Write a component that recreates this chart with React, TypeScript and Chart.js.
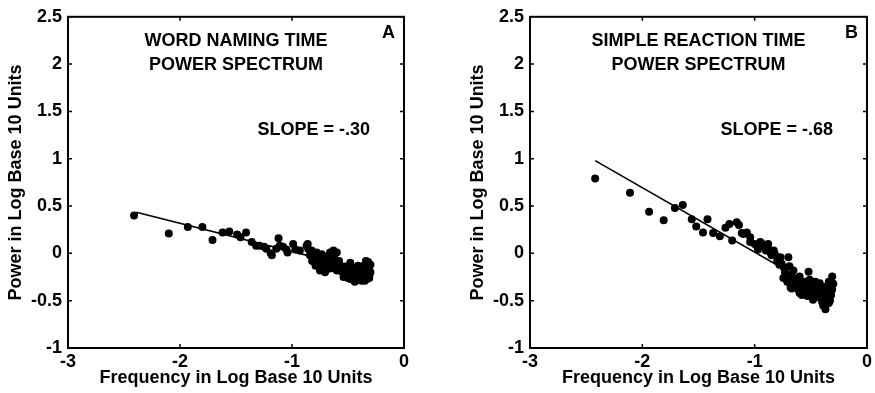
import React, { useEffect, useRef } from "react";
import { Chart, registerables } from "chart.js";

Chart.register(...registerables);

// ---- axis / tick definitions ----
const xTickValues = [-3, -2, -1, 0];
const yTickValues = [-1, -0.5, 0, 0.5, 1, 1.5, 2, 2.5];
const xAxisTitle = "Frequency in Log Base 10 Units";
const yAxisTitle = "Power in Log Base 10 Units";

// ---- Panel A: word naming time ----
const wordFreq = [
  -2.41, -2.1, -1.93, -1.8, -1.71, -1.62, -1.56, -1.49, -1.46, -1.41, -1.36, -1.32, -1.29, -1.25,
  -1.23, -1.19, -1.18, -1.14, -1.12, -1.11, -1.08, -1.05, -1.04, -0.99, -0.97, -0.93, -0.87, -0.86,
  -0.855, -0.825, -0.81, -0.8, -0.78, -0.78, -0.76, -0.75, -0.735, -0.73, -0.72, -0.705, -0.69,
  -0.68, -0.66, -0.66, -0.645, -0.63, -0.63, -0.62, -0.6, -0.6, -0.57, -0.54, -0.51, -0.48, -0.48,
  -0.47, -0.45, -0.44, -0.42, -0.41, -0.4, -0.39, -0.38, -0.37, -0.36, -0.36, -0.35, -0.34, -0.34,
  -0.33, -0.33, -0.32, -0.32, -0.31, -0.3,
  -0.84, -0.82, -0.79, -0.77, -0.74, -0.71, -0.7, -0.67, -0.65, -0.61, -0.58, -0.56, -0.53, -0.52,
  -0.5, -0.46, -0.43, -0.42, -0.4, -0.38, -0.37, -0.35, -0.34, -0.33, -0.31, -0.31, -0.3, -0.32,
  -0.36, -0.39,
];
const wordPower = [
  0.4, 0.21, 0.28, 0.28, 0.14, 0.22, 0.23, 0.2, 0.17, 0.22, 0.12, 0.08, 0.08, 0.07,
  0.05, 0.0, -0.02, 0.05, 0.16, 0.08, 0.07, 0.04, 0.01, 0.1, 0.04, 0.03, 0.08, 0.1,
  0.045, 0.03, -0.04, -0.06, -0.1, 0.01, -0.02, -0.18, -0.01, -0.14, -0.11, -0.2, -0.08,
  -0.03, 0.01, -0.16, -0.1, -0.15, 0.03, -0.06, 0.01, -0.18, -0.13, -0.25, -0.16, -0.1, -0.27,
  -0.2, -0.15, -0.3, -0.23, -0.13, -0.26, -0.18, -0.29, -0.22, -0.2, -0.13, -0.25, -0.08, -0.18,
  -0.27, -0.11, -0.16, -0.21, -0.23, -0.12,
  -0.02, -0.08, -0.13, -0.06, -0.09, -0.04, -0.15, -0.11, -0.06, -0.12, -0.08, -0.19, -0.14, -0.22,
  -0.26, -0.24, -0.19, -0.28, -0.15, -0.24, -0.17, -0.29, -0.22, -0.14, -0.18, -0.26, -0.2, -0.09,
  -0.27, -0.21,
];
const wordFitFreq = [-2.39, -0.3];
const wordFitPower = [0.435, -0.19];

// ---- Panel B: simple reaction time ----
const srtFreq = [
  -2.42, -2.11, -1.94, -1.81, -1.71, -1.64, -1.56, -1.52, -1.46, -1.42, -1.37, -1.31, -1.26,
  -1.225, -1.2, -1.16, -1.14, -1.115, -1.1, -1.07, -1.04, -1.04, -0.98, -0.95, -0.95, -0.91,
  -0.88, -0.88, -0.86, -0.83, -0.83, -0.82, -0.79, -0.77, -0.76, -0.745, -0.73, -0.7, -0.69,
  -0.68, -0.67, -0.67, -0.655, -0.64, -0.62, -0.61, -0.6, -0.58, -0.57, -0.55, -0.54, -0.52,
  -0.51, -0.5, -0.49, -0.48, -0.46, -0.45, -0.44, -0.43, -0.42, -0.4, -0.39, -0.37, -0.36,
  -0.35, -0.34, -0.33, -0.33, -0.32, -0.31,
  -1.0, -0.97, -0.93, -0.9, -0.85, -0.8, -0.78, -0.74, -0.72, -0.71, -0.66, -0.63, -0.6, -0.59,
  -0.56, -0.53, -0.52, -0.5, -0.47, -0.46, -0.44, -0.42, -0.41, -0.38, -0.37, -0.36, -0.35, -0.34,
  -0.32, -0.31, -0.3, -0.33, -0.39,
];
const srtPower = [
  0.79, 0.64, 0.44, 0.35, 0.48, 0.51, 0.36, 0.285, 0.22, 0.36, 0.215, 0.18, 0.27,
  0.31, 0.135, 0.33, 0.3, 0.215, 0.205, 0.22, 0.17, 0.12, 0.08, 0.12, 0.08, 0.065,
  0.1, 0.05, 0.01, 0.03, 0.01, -0.01, -0.055, -0.04, -0.11, -0.26, -0.2, -0.04, -0.135,
  -0.36, -0.245, -0.37, -0.18, -0.3, -0.32, -0.385, -0.245, -0.44, -0.33, -0.3, -0.4, -0.195,
  -0.28, -0.42, -0.35, -0.49, -0.44, -0.33, -0.46, -0.385, -0.315, -0.51, -0.47, -0.59, -0.43,
  -0.385, -0.525, -0.455, -0.35, -0.4, -0.245,
  0.1, 0.04, 0.1, 0.03, -0.02, -0.08, -0.12, -0.15, -0.23, -0.3, -0.28, -0.35, -0.42, -0.29,
  -0.37, -0.45, -0.33, -0.3, -0.38, -0.3, -0.4, -0.45, -0.36, -0.42, -0.5, -0.35, -0.46, -0.3,
  -0.44, -0.38, -0.32, -0.5, -0.55,
];
const srtFitFreq = [-2.42, -0.32];
const srtFitPower = [0.98, -0.45];

const FONT_FAMILY = '"Liberation Sans", Arial, Helvetica, sans-serif';

type PanelProps = {
  left: number;
  width: number;
  padRight: number;
  freq: number[];
  power: number[];
  fitFreq: number[];
  fitPower: number[];
  title1: string;
  title2: string;
  letter: string;
  slope: string;
};

function Panel(props: PanelProps) {
  const ref = useRef<HTMLCanvasElement | null>(null);

  useEffect(() => {
    if (!ref.current) return;
    const font = { family: FONT_FAMILY, size: 18, weight: "bold" as const };

    const framePlugin = {
      id: "frame",
      afterDraw(chart: any) {
        const { ctx, chartArea: a, scales } = chart;
        ctx.save();
        ctx.strokeStyle = "#000";
        ctx.lineWidth = 2;
        ctx.strokeRect(a.left, a.top, a.right - a.left, a.bottom - a.top);
        ctx.lineWidth = 1.5;
        ctx.beginPath();
        for (const v of xTickValues) {
          const px = scales.x.getPixelForValue(v);
          ctx.moveTo(px, a.bottom);
          ctx.lineTo(px, a.bottom - 4);
          ctx.moveTo(px, a.top);
          ctx.lineTo(px, a.top + 4);
        }
        for (const v of yTickValues) {
          const py = scales.y.getPixelForValue(v);
          ctx.moveTo(a.left, py);
          ctx.lineTo(a.left + 4, py);
          ctx.moveTo(a.right, py);
          ctx.lineTo(a.right - 4, py);
        }
        ctx.stroke();

        ctx.fillStyle = "#000";
        ctx.font = `bold 18px ${FONT_FAMILY}`;
        ctx.textBaseline = "alphabetic";
        const cx = (a.left + a.right) / 2;
        ctx.textAlign = "center";
        ctx.fillText(props.title1, cx, a.top + 29);
        ctx.fillText(props.title2, cx, a.top + 53);
        ctx.fillText(props.letter, a.right - 15.5, a.top + 21);
        ctx.textAlign = "right";
        ctx.fillText(props.slope, a.right - 34, a.top + 118);
        ctx.restore();
      },
    };

    const chart = new Chart(ref.current, {
      type: "scatter",
      data: {
        datasets: [
          {
            data: props.freq.map((x, i) => ({ x, y: props.power[i] })),
            backgroundColor: "#000",
            borderColor: "#000",
            borderWidth: 0,
            pointRadius: 4,
          },
          {
            data: props.fitFreq.map((x, i) => ({ x, y: props.fitPower[i] })),
            showLine: true,
            borderColor: "#000",
            borderWidth: 1.6,
            pointRadius: 0,
            fill: false,
          },
        ],
      },
      options: {
        responsive: false,
        animation: false,
        events: [],
        layout: { padding: { left: 0, top: 14, right: props.padRight, bottom: 0 } },
        plugins: { legend: { display: false }, tooltip: { enabled: false } },
        scales: {
          x: {
            type: "linear",
            min: -3,
            max: 0,
            ticks: {
              stepSize: 1,
              font,
              color: "#000",
              padding: 3,
              maxRotation: 0,
              autoSkip: false,
              callback: (v: any) => String(Number(v)),
            },
            grid: { display: false, drawTicks: false },
            border: { display: false },
            title: { display: true, text: xAxisTitle, font, color: "#000", padding: { top: 0, bottom: 4 } },
            afterFit: (s: any) => {
              s.height = 45;
            },
          },
          y: {
            type: "linear",
            min: -1,
            max: 2.5,
            ticks: {
              stepSize: 0.5,
              font,
              color: "#000",
              padding: 6,
              autoSkip: false,
              callback: (v: any) => String(Number(v)),
            },
            grid: { display: false, drawTicks: false },
            border: { display: false },
            title: { display: true, text: yAxisTitle, font, color: "#000", padding: { top: 5, bottom: 0 } },
            afterFit: (s: any) => {
              s.width = 68;
            },
          },
        },
      },
      plugins: [framePlugin],
    } as any);
    return () => chart.destroy();
  }, []);

  return (
    <canvas
      ref={ref}
      width={props.width}
      height={393}
      style={{ position: "absolute", left: props.left, top: 0, width: props.width, height: 393 }}
    />
  );
}

export default function App() {
  return (
    <div
      style={{
        position: "absolute",
        left: 0,
        top: 0,
        width: 875,
        height: 393,
        overflow: "hidden",
        background: "#fff",
      }}
    >
      <Panel
        left={0}
        width={437}
        padRight={33}
        freq={wordFreq}
        power={wordPower}
        fitFreq={wordFitFreq}
        fitPower={wordFitPower}
        title1="WORD NAMING TIME"
        title2="POWER SPECTRUM"
        letter="A"
        slope="SLOPE = -.30"
      />
      <Panel
        left={462}
        width={413}
        padRight={8}
        freq={srtFreq}
        power={srtPower}
        fitFreq={srtFitFreq}
        fitPower={srtFitPower}
        title1="SIMPLE REACTION TIME"
        title2="POWER SPECTRUM"
        letter="B"
        slope="SLOPE = -.68"
      />
    </div>
  );
}
